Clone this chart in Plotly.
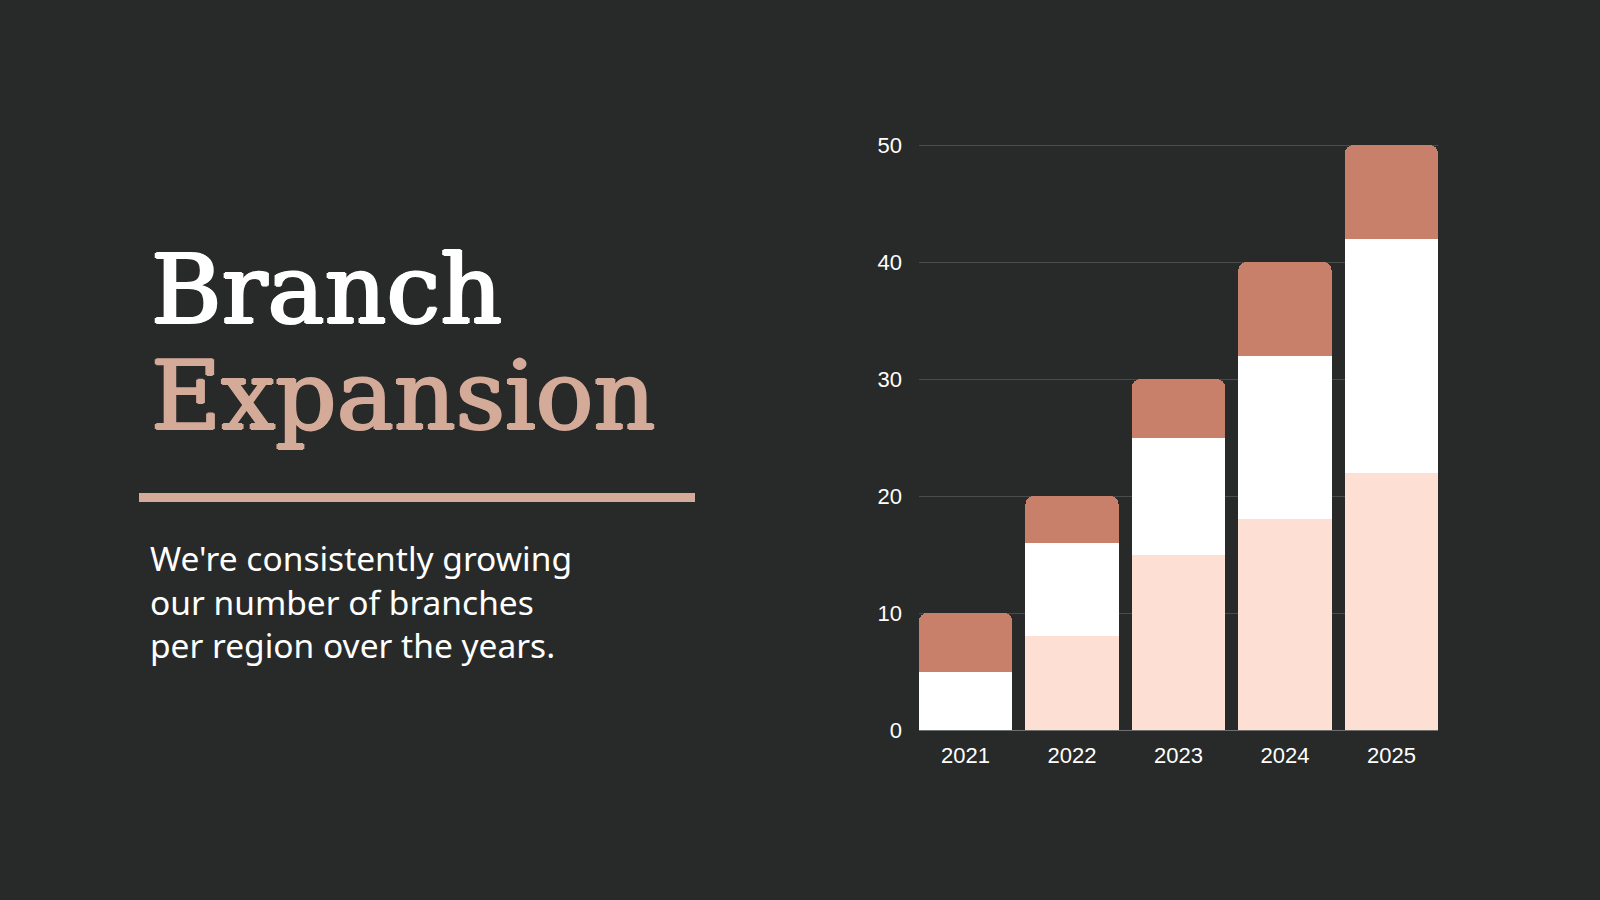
import plotly.graph_objects as go

years = ["2021", "2022", "2023", "2024", "2025"]
region_a = [0, 8, 15, 18, 22]   # peach (bottom)
region_b = [5, 8, 10, 14, 20]   # white (middle)
region_c = [5, 4, 5, 8, 8]      # brown (top)
y_ticks = [0, 10, 20, 30, 40, 50]

BG = "#282a29"
PEACH = "#fedfd3"
WHITE = "#ffffff"
BROWN = "#c8806a"
ACCENT = "#d4aa99"

W, H = 1600, 900
bargap = 0.125
bw = 1 - bargap

fig = go.Figure()
for vals, col, name in [(region_a, PEACH, "A"), (region_b, WHITE, "B"), (region_c, BROWN, "C")]:
    fig.add_trace(go.Bar(x=years, y=vals, marker=dict(color=col, line=dict(width=0)),
                         name=name, hoverinfo="skip"))

x0, x1 = 919, 1438
y_top, y_bot = 144, 730
y_max = 50.1

fig.update_layout(
    width=W, height=H,
    barmode="stack", bargap=bargap, barcornerradius=8,
    paper_bgcolor=BG, plot_bgcolor=BG,
    showlegend=False,
    margin=dict(l=0, r=0, t=0, b=0, pad=0, autoexpand=False),
    xaxis=dict(domain=[x0 / W, x1 / W], type="category",
               range=[-bw / 2, len(years) - 1 + bw / 2], automargin=False,
               showgrid=False, showline=False, zeroline=False,
               tickfont=dict(family="Liberation Sans", size=22, color="#ffffff"),
               ticks="", ticklabelstandoff=10, fixedrange=True),
    yaxis=dict(domain=[1 - y_bot / H, 1 - y_top / H], range=[0, y_max], automargin=False,
               tickvals=y_ticks, showgrid=True, gridcolor="#4a4c4b", gridwidth=1,
               zeroline=True, zerolinecolor="#6e706f", zerolinewidth=1,
               showline=False, ticks="",
               tickfont=dict(family="Liberation Sans", size=22, color="#ffffff"),
               ticklabelstandoff=16, fixedrange=True),
)

TITLE_FONT = "DejaVu Serif"


def thick(c, d=1.4):
    return f"{d}px 0 0 {c}, -{d}px 0 0 {c}, 0 {d/2}px 0 {c}, 0 -{d/2}px 0 {c}"


# Title text
fig.add_annotation(text="Branch", xref="paper", yref="paper", x=149 / W, y=1 - 290 / H,
                   xanchor="left", yanchor="middle", showarrow=False,
                   font=dict(family=TITLE_FONT, size=96, color="#ffffff", shadow=thick("#ffffff")))
fig.add_annotation(text="Expansion", xref="paper", yref="paper", x=149 / W, y=1 - 396 / H,
                   xanchor="left", yanchor="middle", showarrow=False,
                   font=dict(family=TITLE_FONT, size=96, color=ACCENT, shadow=thick(ACCENT)))

# Divider line
fig.add_shape(type="line", xref="paper", yref="paper", x0=139 / W, x1=695 / W,
              y0=1 - 497.5 / H, y1=1 - 497.5 / H, line=dict(color=ACCENT, width=9))

# Body text
fig.add_annotation(text="We're consistently growing<br>our number of branches<br>per region over the years.",
                   xref="paper", yref="paper", x=148 / W, y=1 - 601 / H,
                   xanchor="left", yanchor="middle", align="left", showarrow=False,
                   font=dict(family="Noto Sans", size=33.5, color="#ffffff"))

fig.write_html("out.html", config={"responsive": False, "displayModeBar": False},
               post_script="document.body.style.margin='0';document.body.style.padding='0';"
                           "document.body.style.overflow='hidden';"
                           "document.body.style.background='#282a29';")
